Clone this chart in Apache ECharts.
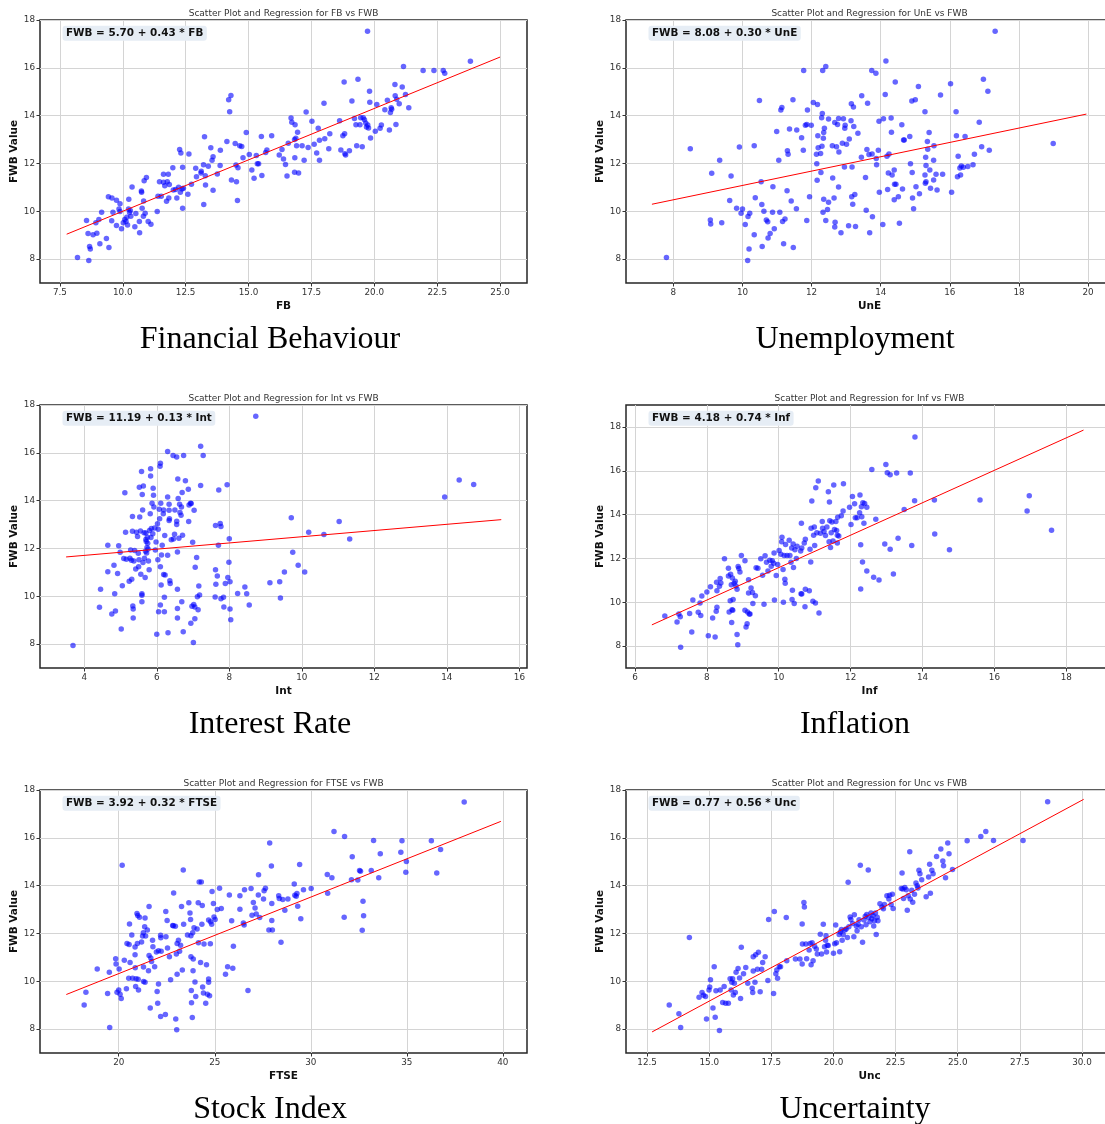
<!DOCTYPE html>
<html>
<head>
<meta charset="utf-8">
<script src="https://cdn.jsdelivr.net/npm/echarts@6.0.0/dist/echarts.min.js"></script>
<style>
  html, body { margin: 0; padding: 0; background: #ffffff; }
  #chart { width: 1105px; height: 1124px; }
</style>
</head>
<body>
<div id="chart"></div>
<script>
// Observations as [predictor, FWB] pairs, one array per predictor.
const fbPoints = [[8.2,8.07],[8.65,7.94],[8.56,9.61],[8.62,9.07],[8.68,8.53],[8.71,8.42],[8.82,9.02],[8.97,9.08],[8.93,9.52],[9.05,9.66],[9.09,8.64],[9.16,9.96],[9.35,8.86],[9.45,8.49],[9.43,10.61],[9.57,10.56],[9.56,9.6],[9.61,9.96],[9.75,9.4],[9.75,10.46],[9.85,10.1],[9.89,10.31],[9.89,9.99],[9.95,9.27],[10.02,9.52],[10.08,9.66],[10.13,9.57],[10.16,9.75],[10.19,9.43],[10.23,10.1],[10.24,10.5],[10.27,9.95],[10.37,11.02],[10.32,9.79],[10.3,10.03],[10.48,9.35],[10.52,9.91],[10.66,9.57],[10.67,9.1],[10.74,10.85],[10.75,10.8],[10.77,10.13],[10.82,9.79],[10.83,10.43],[10.85,11.28],[10.89,9.92],[10.94,11.41],[11.01,9.57],[11.12,9.46],[11.37,9.99],[11.4,10.63],[11.46,11.23],[11.53,10.63],[11.62,11.21],[11.62,11.55],[11.67,11.07],[11.74,10.42],[11.77,11.24],[11.81,11.55],[11.83,10.55],[11.85,11.12],[11.99,11.82],[12.01,10.89],[12.1,10.91],[12.15,10.55],[12.22,11.0],[12.26,12.58],[12.29,10.8],[12.31,12.44],[12.36,10.93],[12.38,11.84],[12.38,10.13],[12.41,10.96],[12.59,10.71],[12.63,12.4],[12.73,11.13],[12.9,11.8],[12.93,11.44],[13.11,11.6],[13.12,11.67],[13.21,11.95],[13.25,13.12],[13.22,10.28],[13.28,11.49],[13.29,11.1],[13.4,11.88],[13.5,12.66],[13.55,12.13],[13.59,12.28],[13.59,10.88],[13.76,11.56],[13.87,11.91],[13.88,12.55],[14.14,12.92],[14.21,14.66],[14.25,14.16],[14.3,14.84],[14.32,11.31],[14.47,12.83],[14.5,11.94],[14.52,11.24],[14.56,10.45],[14.58,11.82],[14.65,12.74],[14.73,12.71],[14.78,12.24],[14.91,13.29],[15.03,12.37],[15.13,11.73],[15.22,11.38],[15.31,12.33],[15.35,11.99],[15.4,11.99],[15.51,13.13],[15.53,11.5],[15.68,12.46],[15.73,12.56],[15.92,13.16],[16.22,12.35],[16.33,12.58],[16.39,12.19],[16.47,11.96],[16.53,11.48],[16.58,12.85],[16.69,13.9],[16.72,13.72],[16.83,11.63],[16.84,12.24],[16.83,13.0],[16.85,13.62],[16.88,13.05],[16.91,12.74],[16.95,13.31],[16.99,11.6],[17.13,12.74],[17.21,12.13],[17.29,14.15],[17.37,12.67],[17.52,13.77],[17.61,12.8],[17.71,12.44],[17.77,13.47],[17.82,12.97],[17.82,12.13],[18.0,14.52],[18.03,13.03],[18.19,12.62],[18.23,13.24],[18.62,13.79],[18.67,12.56],[18.75,13.16],[18.8,15.41],[18.82,13.24],[18.83,12.41],[18.86,12.35],[19.01,12.53],[19.11,14.61],[19.21,13.88],[19.27,13.62],[19.3,12.74],[19.35,15.52],[19.43,13.62],[19.46,13.91],[19.52,12.7],[19.56,13.91],[19.61,13.83],[19.66,13.69],[19.69,13.52],[19.73,17.53],[19.74,13.61],[19.77,13.48],[19.81,15.02],[19.82,14.56],[19.85,13.06],[20.04,13.35],[20.1,14.47],[20.23,13.47],[20.28,13.61],[20.42,14.25],[20.52,14.64],[20.6,13.4],[20.64,14.13],[20.67,14.33],[20.69,14.27],[20.82,15.3],[20.83,14.83],[20.86,13.63],[20.89,14.69],[20.99,14.5],[21.11,15.2],[21.16,16.05],[21.24,14.88],[21.37,14.33],[21.94,15.89],[22.37,15.89],[22.74,15.89],[22.8,15.77],[23.82,16.27]];

const unePoints = [[7.8,8.07],[8.49,12.62],[9.07,9.64],[9.08,9.47],[9.11,11.59],[9.34,12.13],[9.4,9.52],[9.63,10.45],[9.67,11.48],[9.83,10.13],[9.91,12.69],[9.96,9.92],[10.0,10.1],[10.08,9.45],[10.15,7.94],[10.16,9.78],[10.19,8.42],[10.21,9.92],[10.34,12.74],[10.34,9.02],[10.37,10.57],[10.49,14.63],[10.54,11.24],[10.56,10.28],[10.57,8.53],[10.62,10.0],[10.69,9.64],[10.73,9.56],[10.74,8.88],[10.8,9.07],[10.87,9.96],[10.88,11.03],[10.92,9.27],[10.99,13.34],[11.05,12.13],[11.08,9.96],[11.11,14.24],[11.14,14.34],[11.16,9.57],[11.19,8.64],[11.23,9.68],[11.29,10.86],[11.3,12.53],[11.32,12.38],[11.36,13.44],[11.41,10.43],[11.46,14.66],[11.47,8.49],[11.56,10.11],[11.57,13.4],[11.71,13.08],[11.76,12.55],[11.77,15.89],[11.82,13.6],[11.86,13.63],[11.86,9.61],[11.88,14.24],[11.94,10.61],[11.99,13.6],[12.05,14.55],[12.14,12.39],[12.15,11.99],[12.16,11.3],[12.17,14.47],[12.18,13.16],[12.19,12.66],[12.26,12.42],[12.27,11.62],[12.29,13.91],[12.3,12.72],[12.31,14.09],[12.32,15.89],[12.33,9.96],[12.34,13.05],[12.35,13.29],[12.35,10.5],[12.37,13.47],[12.41,16.05],[12.41,9.61],[12.46,10.07],[12.49,10.38],[12.49,13.86],[12.6,12.74],[12.61,11.39],[12.65,10.55],[12.67,13.71],[12.67,9.34],[12.68,9.54],[12.72,12.7],[12.75,13.63],[12.78,13.88],[12.78,11.02],[12.79,12.48],[12.85,9.1],[12.89,12.85],[12.92,13.87],[12.95,11.85],[12.96,13.47],[12.97,13.6],[13.01,12.8],[13.07,9.39],[13.09,13.02],[13.14,13.79],[13.15,14.5],[13.16,10.61],[13.17,11.85],[13.19,10.29],[13.21,14.36],[13.22,13.55],[13.25,10.7],[13.27,9.36],[13.34,13.26],[13.44,12.26],[13.45,14.83],[13.56,11.41],[13.58,10.04],[13.6,12.58],[13.62,14.52],[13.66,12.37],[13.68,9.1],[13.74,15.89],[13.75,12.4],[13.76,9.77],[13.86,15.77],[13.87,12.21],[13.88,11.95],[13.93,12.55],[13.95,13.77],[13.96,10.8],[14.06,9.45],[14.08,13.87],[14.13,14.88],[14.15,16.28],[14.18,12.3],[14.2,10.91],[14.22,11.6],[14.24,12.4],[14.3,13.9],[14.31,13.3],[14.33,11.52],[14.39,11.73],[14.39,10.48],[14.4,11.13],[14.42,15.41],[14.44,11.13],[14.51,10.61],[14.54,9.5],[14.61,13.62],[14.63,10.93],[14.66,12.98],[14.68,12.98],[14.84,13.13],[14.86,11.99],[14.9,14.61],[14.91,11.62],[14.92,10.55],[14.95,10.11],[15.0,14.66],[15.02,11.03],[15.09,15.22],[15.12,10.73],[15.28,14.16],[15.28,11.52],[15.29,11.17],[15.3,12.26],[15.31,11.91],[15.31,11.24],[15.35,12.92],[15.36,12.59],[15.4,13.29],[15.42,11.73],[15.44,10.96],[15.53,12.13],[15.53,11.31],[15.54,12.74],[15.6,11.55],[15.63,10.89],[15.73,14.86],[15.79,11.55],[16.02,15.33],[16.05,10.8],[16.18,14.16],[16.19,13.16],[16.22,11.44],[16.24,12.3],[16.29,11.81],[16.31,11.52],[16.33,11.89],[16.39,11.84],[16.44,13.13],[16.52,11.87],[16.67,11.95],[16.71,12.38],[16.85,13.72],[16.92,12.7],[16.97,15.52],[17.1,15.02],[17.14,12.55],[17.31,17.53],[18.99,12.83]];

const intPoints = [[3.69,7.94],[4.42,9.54],[4.45,10.29],[4.65,12.13],[4.65,11.03],[4.76,9.26],[4.82,11.3],[4.84,10.11],[4.86,9.38],[4.92,10.95],[4.95,12.11],[4.99,11.84],[5.02,8.63],[5.05,10.44],[5.09,11.58],[5.12,14.33],[5.14,12.68],[5.16,11.55],[5.24,10.63],[5.26,11.59],[5.28,11.94],[5.3,11.51],[5.31,10.71],[5.33,13.34],[5.33,12.72],[5.34,9.59],[5.35,9.47],[5.35,9.09],[5.37,11.48],[5.39,11.91],[5.42,11.14],[5.44,12.68],[5.47,12.5],[5.49,11.8],[5.5,11.23],[5.51,11.53],[5.52,14.56],[5.53,13.32],[5.55,12.73],[5.56,10.92],[5.58,15.22],[5.59,10.11],[5.59,10.04],[5.59,9.77],[5.6,14.26],[5.61,13.61],[5.62,11.41],[5.63,14.61],[5.65,12.66],[5.66,11.59],[5.68,10.79],[5.69,11.88],[5.7,12.37],[5.7,12.65],[5.71,12.29],[5.72,11.81],[5.73,12.04],[5.74,12.47],[5.75,12.22],[5.76,11.98],[5.77,11.48],[5.79,11.11],[5.8,12.75],[5.82,13.45],[5.83,15.33],[5.83,15.03],[5.84,12.46],[5.85,12.83],[5.87,13.89],[5.89,12.62],[5.9,14.52],[5.91,14.23],[5.92,13.73],[5.94,12.86],[5.96,11.94],[5.98,12.27],[6.0,8.41],[6.02,13.03],[6.03,11.53],[6.04,12.8],[6.05,9.35],[6.07,13.64],[6.08,13.24],[6.09,15.44],[6.1,15.56],[6.1,11.24],[6.1,9.63],[6.11,13.89],[6.12,10.47],[6.13,11.73],[6.15,12.13],[6.18,13.45],[6.19,10.91],[6.19,13.61],[6.21,9.96],[6.21,9.35],[6.22,12.54],[6.23,10.89],[6.3,16.06],[6.3,11.72],[6.3,14.15],[6.31,8.47],[6.34,13.17],[6.34,13.85],[6.34,13.6],[6.35,13.24],[6.36,10.65],[6.37,10.53],[6.4,12.36],[6.45,15.89],[6.46,12.4],[6.49,12.59],[6.5,13.61],[6.55,15.82],[6.55,13.0],[6.55,13.14],[6.57,10.29],[6.57,9.49],[6.57,11.85],[6.57,9.09],[6.58,14.9],[6.59,14.09],[6.61,12.43],[6.63,13.85],[6.64,13.5],[6.67,13.39],[6.68,13.73],[6.69,9.77],[6.7,14.34],[6.71,12.55],[6.73,8.52],[6.74,15.89],[6.79,14.83],[6.87,14.48],[6.88,13.13],[6.89,13.82],[6.93,13.89],[6.94,8.87],[6.95,13.88],[6.97,9.58],[6.99,12.26],[7.01,8.07],[7.02,9.66],[7.03,13.6],[7.05,9.06],[7.05,9.55],[7.06,11.21],[7.1,11.62],[7.12,9.98],[7.14,9.44],[7.16,10.43],[7.18,10.05],[7.21,16.27],[7.21,14.63],[7.28,15.89],[7.61,9.97],[7.62,11.11],[7.62,12.96],[7.63,10.5],[7.67,10.85],[7.7,12.13],[7.71,14.45],[7.75,13.04],[7.77,9.9],[7.77,12.92],[7.84,9.96],[7.85,9.55],[7.89,10.53],[7.94,14.66],[7.96,10.78],[7.99,11.42],[8.0,12.41],[8.02,10.61],[8.02,9.47],[8.04,9.02],[8.23,10.12],[8.43,10.39],[8.48,10.11],[8.55,9.63],[8.73,17.53],[9.12,10.57],[9.39,10.61],[9.41,9.93],[9.52,11.02],[9.71,13.28],[9.75,11.84],[9.9,11.3],[10.08,11.02],[10.19,12.68],[10.61,12.58],[11.03,13.13],[11.32,12.4],[13.94,14.15],[14.34,14.86],[14.74,14.68]];

const infPoints = [[6.83,9.37],[7.17,9.1],[7.22,9.46],[7.26,9.34],[7.27,7.95],[7.52,9.49],[7.58,8.64],[7.61,10.1],[7.76,9.54],[7.81,9.97],[7.83,9.4],[7.86,10.29],[8.0,10.47],[8.04,8.47],[8.1,10.71],[8.16,9.28],[8.23,8.41],[8.26,9.59],[8.27,10.91],[8.28,9.77],[8.28,10.53],[8.35,10.73],[8.37,11.08],[8.39,10.88],[8.49,11.98],[8.6,11.55],[8.6,11.2],[8.62,9.55],[8.65,10.07],[8.66,11.28],[8.68,10.8],[8.69,9.08],[8.7,9.66],[8.71,11.11],[8.72,9.63],[8.73,10.12],[8.76,10.87],[8.79,10.96],[8.81,10.74],[8.84,10.59],[8.84,8.53],[8.86,8.06],[8.87,11.63],[8.89,11.54],[8.92,11.38],[8.96,12.13],[9.06,11.89],[9.06,9.63],[9.09,8.87],[9.12,9.02],[9.13,9.55],[9.16,11.03],[9.16,10.42],[9.18,9.46],[9.2,9.46],[9.23,10.65],[9.27,10.44],[9.28,9.94],[9.35,10.3],[9.37,11.57],[9.42,11.55],[9.5,11.98],[9.55,11.23],[9.59,9.91],[9.62,12.12],[9.66,11.83],[9.7,11.43],[9.75,11.92],[9.79,11.64],[9.82,11.89],[9.86,11.78],[9.87,12.25],[9.88,10.1],[9.93,11.22],[9.97,11.72],[10.01,12.36],[10.06,12.19],[10.08,12.76],[10.09,12.97],[10.12,11.49],[10.13,10.0],[10.15,12.13],[10.17,11.05],[10.18,10.87],[10.19,12.63],[10.23,12.13],[10.29,12.83],[10.31,12.13],[10.34,11.83],[10.36,12.48],[10.37,10.12],[10.38,10.55],[10.4,12.66],[10.41,11.58],[10.43,9.94],[10.45,12.39],[10.49,12.0],[10.51,12.56],[10.61,12.34],[10.62,10.39],[10.63,13.61],[10.64,10.38],[10.64,12.47],[10.71,12.7],[10.73,9.8],[10.74,12.88],[10.74,10.59],[10.85,10.53],[10.87,12.42],[10.89,11.84],[10.9,13.38],[10.92,14.62],[10.95,10.04],[10.97,13.06],[10.99,13.43],[11.0,12.59],[11.02,9.97],[11.03,15.23],[11.06,13.17],[11.1,15.53],[11.12,9.51],[11.16,13.15],[11.21,13.69],[11.22,13.38],[11.26,13.23],[11.3,13.05],[11.34,13.43],[11.38,15.04],[11.4,12.76],[11.41,14.57],[11.42,13.72],[11.44,12.5],[11.46,13.17],[11.48,13.66],[11.51,12.79],[11.53,15.35],[11.55,13.32],[11.59,13.69],[11.61,13.27],[11.63,13.06],[11.63,12.7],[11.64,13.88],[11.67,13.02],[11.74,13.95],[11.79,14.16],[11.8,15.41],[11.97,14.34],[12.01,13.55],[12.05,14.83],[12.11,14.49],[12.13,13.85],[12.18,13.85],[12.25,14.08],[12.26,14.89],[12.28,12.62],[12.28,10.61],[12.3,14.36],[12.31,13.9],[12.33,11.84],[12.34,14.54],[12.37,13.61],[12.39,14.51],[12.45,14.34],[12.45,11.43],[12.59,16.06],[12.64,11.14],[12.7,13.79],[12.79,11.02],[12.95,12.66],[12.98,16.29],[13.02,15.91],[13.1,15.82],[13.1,12.42],[13.19,11.29],[13.28,15.9],[13.32,12.92],[13.49,14.23],[13.66,15.9],[13.7,12.59],[13.78,14.63],[13.79,17.54],[14.33,14.66],[14.34,13.11],[14.75,12.39],[15.6,14.66],[16.91,14.16],[16.97,14.86],[17.59,13.29]];

const ftsePoints = [[18.2,9.01],[18.29,9.54],[18.88,10.51],[19.42,9.49],[19.51,10.38],[19.53,8.07],[19.84,10.94],[19.86,10.72],[19.91,9.54],[20.0,9.64],[20.02,10.51],[20.07,9.46],[20.13,9.28],[20.18,14.85],[20.29,10.88],[20.4,9.69],[20.43,11.58],[20.52,10.13],[20.54,11.54],[20.56,12.4],[20.59,10.78],[20.68,11.94],[20.72,10.13],[20.85,11.43],[20.85,11.11],[20.86,10.57],[20.88,9.78],[20.9,10.11],[20.95,12.83],[20.97,11.58],[20.99,12.75],[21.01,10.08],[21.03,9.64],[21.08,12.68],[21.19,11.64],[21.24,11.89],[21.28,12.03],[21.29,10.6],[21.29,9.99],[21.35,12.28],[21.37,9.96],[21.37,12.65],[21.4,11.89],[21.49,12.14],[21.55,10.44],[21.58,13.13],[21.58,11.08],[21.64,8.88],[21.67,10.97],[21.71,10.83],[21.76,11.72],[21.78,11.44],[21.87,10.61],[21.96,11.22],[22.0,9.57],[22.03,9.08],[22.07,9.89],[22.07,11.28],[22.18,8.53],[22.18,11.92],[22.19,11.82],[22.21,11.26],[22.43,8.61],[22.45,12.92],[22.46,11.86],[22.52,12.54],[22.54,11.39],[22.64,11.03],[22.7,10.06],[22.81,12.33],[22.84,12.32],[22.86,13.69],[22.95,12.3],[22.97,8.42],[23.0,11.14],[23.02,7.97],[23.04,10.29],[23.04,11.58],[23.11,11.72],[23.17,11.26],[23.22,11.51],[23.27,13.13],[23.31,10.47],[23.36,14.65],[23.38,12.39],[23.58,11.94],[23.65,13.28],[23.71,12.86],[23.74,12.58],[23.76,11.9],[23.76,11.03],[23.78,9.61],[23.79,9.1],[23.83,8.49],[23.85,12.03],[23.87,10.44],[23.88,10.93],[23.92,12.24],[23.97,9.97],[24.01,9.36],[24.08,12.19],[24.14,13.28],[24.15,11.61],[24.19,14.15],[24.26,10.79],[24.3,14.15],[24.33,12.39],[24.35,13.17],[24.37,9.76],[24.41,9.51],[24.44,11.56],[24.53,9.08],[24.57,10.69],[24.62,9.46],[24.68,12.56],[24.68,10.1],[24.68,9.96],[24.73,9.39],[24.77,11.57],[24.78,12.49],[24.84,12.39],[24.86,13.75],[24.93,13.25],[24.96,12.69],[25.02,12.58],[25.13,13.0],[25.25,13.89],[25.34,13.04],[25.56,10.29],[25.67,10.61],[25.76,13.61],[25.88,12.53],[25.94,10.54],[25.97,11.47],[26.31,13.58],[26.31,13.01],[26.49,12.44],[26.53,12.35],[26.55,13.83],[26.73,9.61],[26.89,13.88],[26.94,12.76],[27.01,13.29],[27.1,13.06],[27.16,12.81],[27.27,13.61],[27.28,14.46],[27.34,12.67],[27.54,13.44],[27.57,13.79],[27.64,13.89],[27.82,12.14],[27.86,15.78],[27.95,14.82],[27.97,13.25],[27.97,12.54],[28.0,12.14],[28.33,13.58],[28.36,13.46],[28.45,11.63],[28.54,13.42],[28.65,12.97],[28.81,13.44],[29.14,14.07],[29.17,13.6],[29.24,13.56],[29.28,13.67],[29.32,13.14],[29.42,14.88],[29.48,12.61],[29.62,13.83],[30.02,13.88],[30.86,14.47],[30.88,13.68],[31.1,14.33],[31.21,16.26],[31.74,12.68],[31.76,16.06],[32.12,14.25],[32.16,15.21],[32.45,14.24],[32.54,14.63],[32.59,14.6],[32.68,12.13],[32.72,13.35],[32.75,12.74],[33.15,14.63],[33.27,15.89],[33.54,14.33],[33.62,15.33],[34.69,15.4],[34.75,15.88],[34.95,14.56],[34.98,15.01],[36.28,15.88],[36.56,14.53],[36.76,15.51],[37.99,17.5]];

const uncPoints = [[13.39,9.01],[13.78,8.64],[13.85,8.07],[14.2,11.83],[14.59,9.33],[14.71,9.53],[14.77,9.42],[14.85,9.36],[14.89,8.42],[14.99,9.64],[15.02,9.76],[15.05,10.06],[15.15,8.88],[15.2,10.61],[15.24,8.5],[15.27,9.6],[15.41,7.94],[15.44,9.64],[15.54,9.11],[15.6,9.78],[15.66,9.08],[15.77,9.08],[15.84,10.11],[15.88,9.64],[15.91,9.96],[15.94,10.11],[15.97,9.43],[16.01,9.92],[16.05,9.53],[16.08,10.38],[16.16,10.53],[16.22,10.14],[16.26,9.28],[16.29,11.42],[16.38,10.31],[16.47,10.58],[16.55,9.92],[16.73,9.71],[16.75,9.53],[16.77,10.43],[16.77,11.03],[16.84,9.96],[16.87,11.11],[16.94,10.5],[16.98,11.21],[17.05,9.56],[17.11,10.5],[17.15,10.78],[17.25,11.03],[17.36,10.03],[17.39,12.58],[17.59,9.49],[17.62,12.92],[17.68,10.31],[17.72,10.47],[17.75,10.13],[17.82,10.61],[17.87,10.61],[18.1,12.67],[18.12,10.86],[18.47,10.93],[18.65,10.93],[18.74,12.4],[18.74,10.72],[18.75,11.56],[18.81,13.29],[18.83,13.11],[18.89,11.56],[18.92,10.94],[19.02,11.31],[19.06,11.58],[19.1,10.69],[19.14,11.61],[19.18,10.86],[19.24,11.46],[19.31,11.35],[19.35,11.14],[19.47,11.97],[19.52,11.14],[19.59,12.39],[19.64,11.44],[19.68,11.72],[19.7,11.9],[19.72,11.22],[19.75,11.51],[19.79,11.5],[20.0,11.17],[20.05,11.57],[20.09,12.35],[20.12,11.61],[20.23,11.96],[20.25,11.24],[20.28,12.06],[20.32,12.17],[20.35,11.72],[20.39,11.96],[20.46,12.14],[20.51,12.19],[20.56,11.83],[20.59,14.14],[20.62,12.28],[20.67,12.69],[20.7,12.58],[20.77,12.42],[20.82,11.86],[20.84,12.78],[20.92,12.31],[20.95,12.11],[20.99,12.38],[21.03,12.57],[21.08,14.85],[21.12,12.28],[21.17,11.63],[21.23,12.56],[21.28,12.72],[21.31,12.36],[21.34,12.79],[21.4,14.65],[21.41,12.67],[21.47,12.49],[21.51,12.86],[21.54,12.61],[21.59,12.75],[21.62,12.31],[21.65,12.53],[21.69,12.86],[21.72,11.96],[21.76,12.68],[21.79,12.53],[21.87,13.24],[21.95,13.11],[22.01,13.03],[22.05,13.21],[22.15,13.58],[22.23,13.44],[22.26,13.6],[22.32,13.21],[22.37,13.64],[22.4,13.04],[22.73,13.88],[22.76,14.53],[22.79,13.86],[22.82,13.46],[22.87,13.92],[22.93,13.83],[22.97,12.97],[23.01,13.58],[23.07,15.42],[23.09,13.44],[23.15,13.81],[23.19,13.31],[23.26,13.64],[23.32,14.11],[23.37,14.0],[23.4,13.9],[23.44,14.64],[23.48,14.5],[23.55,14.25],[23.73,13.53],[23.83,14.36],[23.87,14.89],[23.9,13.68],[23.96,14.64],[24.01,14.5],[24.15,15.22],[24.32,15.53],[24.4,15.03],[24.43,14.83],[24.51,14.33],[24.6,15.78],[24.65,15.33],[24.79,14.67],[25.38,15.88],[25.93,16.06],[26.13,16.26],[26.44,15.89],[27.63,15.89],[28.62,17.51]];

// Predictor short names, captions and fitted regression coefficients.
const predictorKeys = ['FB', 'UnE', 'Int', 'Inf', 'FTSE', 'Unc'];
const captionLabels = ['Financial Behaviour', 'Unemployment', 'Interest Rate', 'Inflation', 'Stock Index', 'Uncertainty'];
const intercepts = [5.70, 8.08, 11.19, 4.18, 3.92, 0.77];
const slopes = [0.43, 0.30, 0.13, 0.74, 0.32, 0.56];
const fitSpans = [[7.77, 25.0], [7.38, 19.95], [3.5, 15.5], [6.47, 18.48], [17.27, 39.9], [12.7, 30.07]];

// Axis extents and tick labels.
const xExtents = [[6.71, 26.07], [6.63, 20.72], [2.78, 16.21], [5.75, 19.3], [15.9, 41.26], [11.65, 31.25]];
const xTickValues = [
  [7.5, 10, 12.5, 15, 17.5, 20, 22.5, 25],
  [8, 10, 12, 14, 16, 18, 20],
  [4, 6, 8, 10, 12, 14, 16],
  [6, 8, 10, 12, 14, 16, 18],
  [20, 25, 30, 35, 40],
  [12.5, 15, 17.5, 20, 22.5, 25, 27.5, 30]
];
const xTickDecimals = [1, 0, 0, 0, 0, 1];
const yExtents = [[7, 18], [7, 18], [7, 18], [7, 19], [7, 18], [7, 18]];
const yTickValues = [8, 10, 12, 14, 16, 18];

const pointSets = [fbPoints, unePoints, intPoints, infPoints, ftsePoints, uncPoints];

// Page layout of the 3 x 2 panel grid.
const colLeft = [40, 626];
const rowTop = [20, 405, 790];
const plotW = 487, plotH = 263;
const captionX = [270, 855];
const captionDy = 320;

const baseFont = 'DejaVu Sans';
const grids = [], xAxes = [], yAxes = [], series = [], graphics = [];

predictorKeys.forEach((key, i) => {
  const col = i % 2, row = Math.floor(i / 2);
  const left = colLeft[col], top = rowTop[row];
  grids.push({
    left: left, top: top, width: plotW, height: plotH,
    show: true, borderColor: '#262626', borderWidth: 1.5,
    backgroundColor: '#ffffff', outerBoundsMode: 'none', containLabel: false
  });
  const dec = xTickDecimals[i];
  xAxes.push({
    type: 'value', gridIndex: i, min: xExtents[i][0], max: xExtents[i][1],
    name: key, nameLocation: 'middle', nameGap: 18,
    nameTextStyle: { fontFamily: baseFont, fontWeight: 'bold', fontSize: 10.5, color: '#111' },
    axisLine: { show: false },
    axisTick: { show: true, inside: false, length: 3.5, customValues: xTickValues[i], lineStyle: { color: '#333', width: 1 } },
    axisLabel: { show: true, customValues: xTickValues[i], margin: 5, fontFamily: baseFont, fontSize: 8.8, color: '#333',
      formatter: v => Number(v).toFixed(dec) },
    splitLine: { show: true, lineStyle: { color: '#d4d4d4', width: 1 } }
  });
  yAxes.push({
    type: 'value', gridIndex: i, min: yExtents[i][0], max: yExtents[i][1],
    name: 'FWB Value', nameLocation: 'middle', nameGap: 15, nameRotate: 90,
    nameTextStyle: { fontFamily: baseFont, fontWeight: 'bold', fontSize: 10.5, color: '#111' },
    axisLine: { show: false },
    axisTick: { show: true, inside: false, length: 3.5, customValues: yTickValues, lineStyle: { color: '#333', width: 1 } },
    axisLabel: { show: true, customValues: yTickValues, margin: 5, fontFamily: baseFont, fontSize: 8.8, color: '#333',
      formatter: v => String(Math.round(v)) },
    splitLine: { show: true, lineStyle: { color: '#d4d4d4', width: 1 } }
  });
  series.push({
    type: 'scatter', xAxisIndex: i, yAxisIndex: i, data: pointSets[i],
    symbol: 'circle', symbolSize: 5.5,
    itemStyle: { color: '#0000ff', opacity: 0.6 }, z: 2, silent: true
  });
  const a = intercepts[i], b = slopes[i];
  series.push({
    type: 'line', xAxisIndex: i, yAxisIndex: i,
    data: fitSpans[i].map(x => [x, a + b * x]),
    showSymbol: false, symbol: 'none',
    lineStyle: { color: '#ff0000', width: 1 }, z: 3, silent: true
  });
  // panel title
  graphics.push({
    type: 'text', x: left + plotW / 2, y: top - 6.5,
    style: { text: 'Scatter Plot and Regression for ' + key + ' vs FWB', fill: '#333',
      font: '9px "' + baseFont + '"', align: 'center', verticalAlign: 'middle' }
  });
  // regression equation label
  graphics.push({
    type: 'text', x: left + 22.5, y: top + 5.7, z: 10,
    style: { text: 'FWB = ' + a.toFixed(2) + ' + ' + b.toFixed(2) + ' * ' + key, fill: '#111',
      font: 'bold 10.4px "' + baseFont + '"', align: 'left', verticalAlign: 'top',
      backgroundColor: '#e6edf5', padding: [2.5, 3.5, 2.5, 3.5], borderRadius: 3 }
  });
  // panel caption
  graphics.push({
    type: 'text', x: captionX[col], y: top + captionDy,
    style: { text: captionLabels[i], fill: '#000',
      font: '32px "Liberation Serif"', align: 'center', verticalAlign: 'middle' }
  });
});

const chart = echarts.init(document.getElementById('chart'), null, { renderer: 'canvas' });
chart.setOption({
  animation: false,
  backgroundColor: '#ffffff',
  grid: grids,
  xAxis: xAxes,
  yAxis: yAxes,
  series: series,
  graphic: { elements: graphics }
});
</script>
</body>
</html>
